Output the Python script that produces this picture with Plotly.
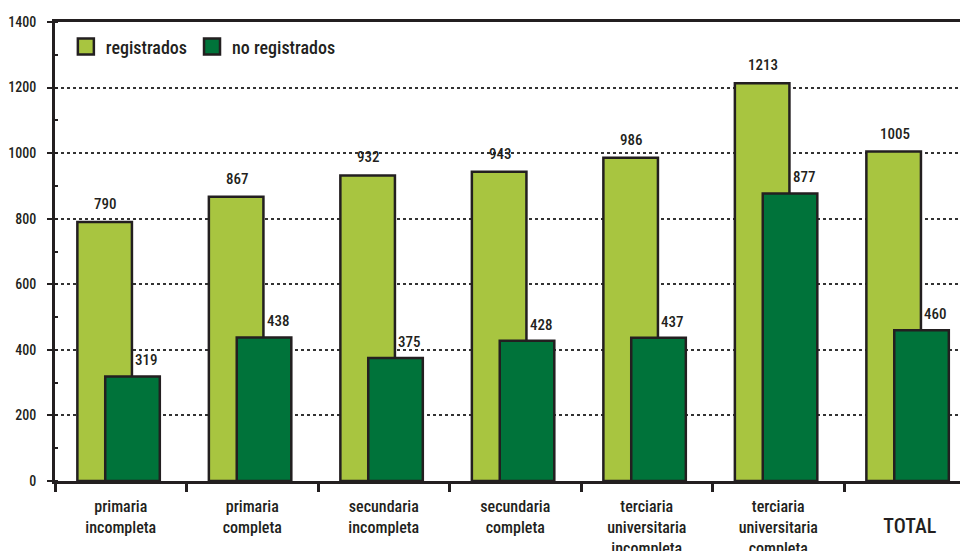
import plotly.graph_objects as go

categories = [
    "primaria<br>incompleta",
    "primaria<br>completa",
    "secundaria<br>incompleta",
    "secundaria<br>completa",
    "terciaria<br>universitaria<br>incompleta",
    "terciaria<br>universitaria<br>completa",
    "TOTAL",
]
tick_labels = [
    "primaria<br>incompleta",
    "primaria<br>completa",
    "secundaria<br>incompleta",
    "secundaria<br>completa",
    "terciaria<br>universitaria<br>incompleta",
    "terciaria<br>universitaria<br>completa",
    "<br><span style='font-size:20px'>TOTAL</span>",
]
registrados = [790, 867, 932, 943, 986, 1213, 1005]
no_registrados = [319, 438, 375, 428, 437, 877, 460]
y_ticks = [0, 200, 400, 600, 800, 1000, 1200, 1400]

FONT = "Roboto Condensed, Liberation Sans Narrow, DejaVu Sans Condensed, Arial Narrow, sans-serif"
TXT = "#231f20"
LIGHT = "#a8c540"
DARK = "#00733a"
EDGE = "#231f20"
WT = 500

W = 0.415
fig = go.Figure()
fig.add_trace(go.Bar(
    x=categories, y=registrados, name="registrados", width=W, offset=-0.33,
    marker=dict(color=LIGHT, line=dict(color=EDGE, width=2.5)), showlegend=False,
    legendgroup="r",
))
fig.add_trace(go.Bar(
    x=categories, y=no_registrados, name="no registrados", width=W, offset=-0.118,
    marker=dict(color=DARK, line=dict(color=EDGE, width=2.5)), showlegend=False,
    legendgroup="n",
))
# legend proxies
fig.add_trace(go.Scatter(x=[None], y=[None], mode="markers", name="registrados", legendgroup="r",
                         marker=dict(symbol="square", size=16, color=LIGHT, line=dict(color=EDGE, width=2.5))))
fig.add_trace(go.Scatter(x=[None], y=[None], mode="markers", name="no registrados", legendgroup="n",
                         marker=dict(symbol="square", size=16, color=DARK, line=dict(color=EDGE, width=2.5))))

annotations = []
for c, v in zip(categories, registrados):
    annotations.append(dict(x=c, y=v, text=str(v), showarrow=False, xshift=-15, yshift=18,
                            yanchor="middle", font=dict(size=15, color=TXT, family=FONT, weight=WT)))
for c, v in zip(categories, no_registrados):
    annotations.append(dict(x=c, y=v, text=str(v), showarrow=False, xshift=26, yshift=16,
                            yanchor="middle", font=dict(size=15, color=TXT, family=FONT, weight=WT)))

fig.update_layout(
    width=960, height=551, autosize=False,
    margin=dict(l=55, r=0, t=22, b=70),
    barmode="overlay",
    plot_bgcolor="white", paper_bgcolor="white",
    font=dict(family=FONT, color=TXT, size=14, weight=WT),
    annotations=annotations,
    legend=dict(orientation="h", x=0.012, y=0.946, xanchor="left", yanchor="middle",
                bgcolor="rgba(0,0,0,0)", font=dict(size=18, color=TXT, family=FONT, weight=WT),
                itemclick=False, itemdoubleclick=False),
)
fig.update_xaxes(
    type="category", range=[-0.5, 6.382], tickson="boundaries", automargin=False,
    tickmode="array", tickvals=categories, ticktext=tick_labels,
    ticks="outside", ticklen=8, tickwidth=2.5, tickcolor=EDGE,
    showline=True, linewidth=3, linecolor=EDGE, mirror=True,
    showgrid=False, tickfont=dict(size=16, color=TXT, family=FONT, weight=WT),
    ticklabelstandoff=9,
)
fig.update_yaxes(
    range=[0, 1400], tickvals=y_ticks, ticks="outside", ticklen=5, tickwidth=2, tickcolor=EDGE,
    showline=True, linewidth=3, linecolor=EDGE, zeroline=False, automargin=False,
    showgrid=True, gridcolor="#333333", gridwidth=1.5, griddash="dot",
    minor=dict(dtick=100, ticks="inside", ticklen=3, tickwidth=1.5, tickcolor=EDGE, showgrid=False),
    tickfont=dict(size=14, color=TXT, family=FONT, weight=WT), ticklabelstandoff=8,
)

fig.write_html("out.html", config={"displayModeBar": False},
               post_script="document.body.style.margin='0';")
